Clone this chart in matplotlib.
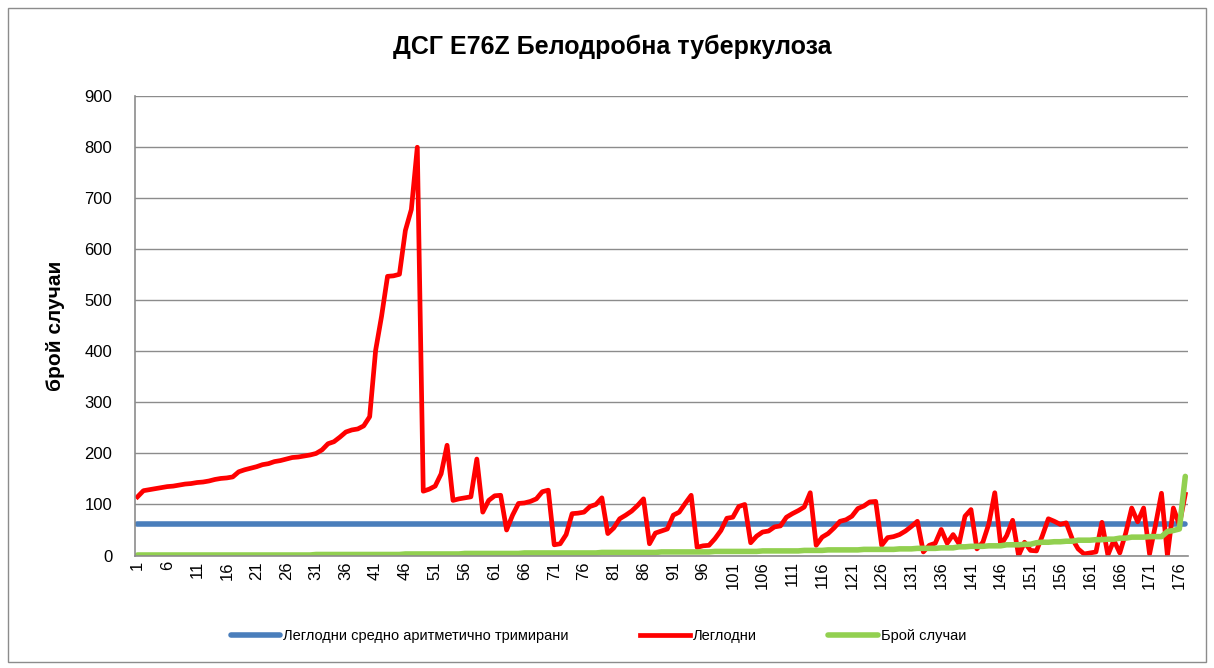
import numpy as np
import matplotlib
matplotlib.use("Agg")
import matplotlib.pyplot as plt
from matplotlib.patches import Rectangle

plt.rcParams['font.family'] = ['Liberation Sans Narrow', 'Liberation Sans', 'DejaVu Sans']

# Данни от графиката
title = "ДСГ E76Z Белодробна туберкулоза"
y_label = "брой случаи"
labels = ["Леглодни средно аритметично тримирани", "Леглодни", "Брой случаи"]

trimmed_mean = 61

bed_days = [
    115, 127, 129, 131, 133, 135, 136, 138, 140, 141,
    143, 144, 146, 149, 151, 152, 154, 164, 168, 171,
    174, 178, 180, 184, 186, 189, 192, 193, 195, 197,
    200, 207, 219, 223, 232, 242, 246, 248, 254, 272,
    402, 469, 547, 548, 551, 637, 678, 800, 126, 130,
    136, 160, 216, 108, 111, 113, 115, 189, 85, 108,
    117, 118, 50, 79, 102, 103, 106, 111, 125, 128,
    21, 23, 41, 82, 83, 85, 96, 100, 113, 43,
    54, 72, 79, 87, 98, 111, 23, 44, 48, 52,
    79, 85, 102, 118, 16, 19, 20, 33, 49, 73,
    75, 96, 100, 25, 38, 46, 48, 56, 58, 75,
    82, 88, 95, 123, 20, 36, 43, 54, 67, 70,
    77, 92, 97, 105, 106, 20, 35, 37, 41, 48,
    57, 67, 7, 20, 24, 51, 24, 41, 23, 77,
    90, 13, 26, 62, 123, 20, 39, 69, 0, 26,
    10, 9, 39, 72, 67, 61, 64, 33, 13, 3,
    5, 7, 65, 1, 30, 5, 44, 93, 66, 93,
    3, 60, 122, 0, 93, 60, 120,
]

cases = [
    1, 1, 1, 1, 1, 1, 1, 1, 1, 1,
    1, 1, 1, 1, 1, 1, 1, 1, 1, 1,
    1, 1, 1, 1, 1, 1, 1, 1, 1, 1,
    2, 2, 2, 2, 2, 2, 2, 2, 2, 2,
    2, 2, 2, 2, 2, 3, 3, 3, 3, 3,
    3, 3, 3, 3, 3, 4, 4, 4, 4, 4,
    4, 4, 4, 4, 4, 5, 5, 5, 5, 5,
    5, 5, 5, 5, 5, 5, 5, 5, 6, 6,
    6, 6, 6, 6, 6, 6, 6, 6, 7, 7,
    7, 7, 7, 7, 7, 7, 7, 8, 8, 8,
    8, 8, 8, 8, 8, 9, 9, 9, 9, 9,
    9, 9, 10, 10, 10, 10, 11, 11, 11, 11,
    11, 11, 12, 12, 12, 12, 12, 12, 13, 13,
    13, 14, 14, 14, 14, 15, 15, 15, 17, 17,
    18, 18, 18, 19, 19, 19, 21, 21, 21, 22,
    22, 25, 26, 26, 27, 27, 28, 28, 30, 30,
    30, 31, 31, 32, 32, 34, 34, 36, 36, 36,
    37, 37, 37, 47, 49, 52, 155,
]

x = np.arange(1, len(bed_days) + 1)

fig = plt.figure(figsize=(12.14, 6.68), dpi=100)
ax = fig.add_axes([0.1108, 0.1684, 0.868, 0.6876])

ax.plot(x, [trimmed_mean] * len(x), color='#4A7EBB', lw=4.0, label=labels[0], solid_capstyle='round')
ax.plot(x, bed_days, color='#FF0000', lw=3.4, label=labels[1])
ax.plot(x, cases, color='#92D050', lw=4.0, label=labels[2], solid_capstyle='round')

ax.set_xlim(0.5, 177.5)
ax.set_ylim(0, 900)
ax.set_yticks(np.arange(0, 901, 100))
ax.set_xticks(x[::5])
ax.set_xticklabels([str(v) for v in x[::5]], rotation=90, fontsize=12)
ax.tick_params(axis='y', labelsize=12, length=0, pad=16)
ax.tick_params(axis='x', length=0, pad=4)
ax.grid(axis='y', color='#8C8C8C', lw=1)
ax.set_axisbelow(True)
for s in ['top', 'right']:
    ax.spines[s].set_visible(False)
for s in ['left', 'bottom']:
    ax.spines[s].set_color('#8C8C8C')
    ax.spines[s].set_linewidth(1.2)

ax.set_ylabel(y_label, fontsize=15, fontweight='bold', labelpad=14)
fig.text(0.504, 0.93, title, ha='center', va='center', fontsize=18, fontweight='bold')

fig.legend(loc='center', bbox_to_anchor=(0.493, 0.048), ncol=3, frameon=False,
           fontsize=10.5, handlelength=3.4, columnspacing=4.9, handletextpad=0.2)

fig.patches.append(Rectangle((8 / 1214, 6 / 668), 1198 / 1214, 654 / 668,
                             transform=fig.transFigure, fill=False, ec='#8C8C8C', lw=1))

assert len(bed_days) == 177 and len(cases) == 177
fig.savefig('out.png', dpi=100)
